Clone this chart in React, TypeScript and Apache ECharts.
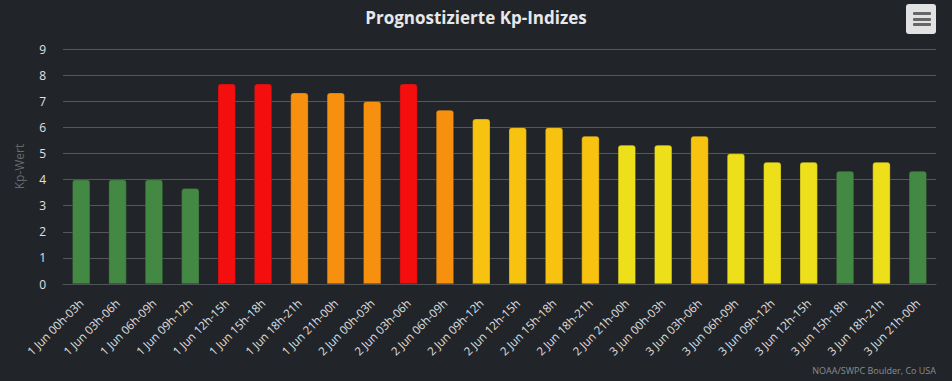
import React, { useEffect, useRef } from "react";
import * as echarts from "echarts";

const categories = [
  "1 Jun 00h-03h", "1 Jun 03h-06h", "1 Jun 06h-09h", "1 Jun 09h-12h",
  "1 Jun 12h-15h", "1 Jun 15h-18h", "1 Jun 18h-21h", "1 Jun 21h-00h",
  "2 Jun 00h-03h", "2 Jun 03h-06h", "2 Jun 06h-09h", "2 Jun 09h-12h",
  "2 Jun 12h-15h", "2 Jun 15h-18h", "2 Jun 18h-21h", "2 Jun 21h-00h",
  "3 Jun 00h-03h", "3 Jun 03h-06h", "3 Jun 06h-09h", "3 Jun 09h-12h",
  "3 Jun 12h-15h", "3 Jun 15h-18h", "3 Jun 18h-21h", "3 Jun 21h-00h",
];

const kpValues = [
  4.0, 4.0, 4.0, 3.67,
  7.67, 7.67, 7.33, 7.33,
  7.0, 7.67, 6.67, 6.33,
  6.0, 6.0, 5.67, 5.33,
  5.33, 5.67, 5.0, 4.67,
  4.67, 4.33, 4.67, 4.33,
];

const barColors = [
  "#438843", "#438843", "#438843", "#438843",
  "#f50e0e", "#f50e0e", "#f6900e", "#f6900e",
  "#f6900e", "#f50e0e", "#f6900e", "#f8c211",
  "#f8c211", "#f8c211", "#f8c211", "#eedf1b",
  "#eedf1b", "#f8c211", "#eedf1b", "#eedf1b",
  "#eedf1b", "#438843", "#eedf1b", "#438843",
];

const yTicks = [0, 1, 2, 3, 4, 5, 6, 7, 8, 9];

export default function App() {
  const ref = useRef<HTMLDivElement>(null);
  useEffect(() => {
    if (!ref.current) return;
    const chart = echarts.init(ref.current, undefined, { renderer: "svg" });
    const font = "'Open Sans', 'DejaVu Sans', sans-serif";
    chart.setOption({
      animation: false,
      backgroundColor: "#212529",
      textStyle: { fontFamily: font },
      title: {
        text: "Prognostizierte Kp-Indizes",
        left: "center",
        top: 4,
        textStyle: { color: "#e8e8ea", fontSize: 17, fontWeight: "bold", fontFamily: font },
      },
      grid: { left: 63, right: 16, top: 49, bottom: 97, containLabel: false },
      xAxis: {
        type: "category",
        data: categories,
        axisTick: { show: false },
        axisLine: { show: true, lineStyle: { color: "#505357", width: 1 } },
        axisLabel: {
          interval: 0,
          rotate: 45,
          margin: 17,
          color: "#e0e0e3",
          fontSize: 11.5,
          fontFamily: font,
        },
      },
      yAxis: {
        type: "value",
        min: yTicks[0],
        max: yTicks[yTicks.length - 1],
        interval: 1,
        name: "Kp-Wert",
        nameLocation: "middle",
        nameGap: 38,
        nameTextStyle: { color: "#666a6f", fontSize: 12, fontFamily: font },
        axisLine: { show: false },
        axisTick: { show: false },
        axisLabel: { color: "#e0e0e3", fontSize: 12, margin: 17, fontFamily: font },
        splitLine: { lineStyle: { color: "#55575b", width: 1 } },
      },
      series: [
        {
          type: "bar",
          barWidth: 18,
          data: kpValues.map((v, i) => ({
            value: v,
            itemStyle: {
              color: barColors[i],
              borderRadius: [3, 3, 0, 0],
              borderColor: "rgba(40,40,40,0.5)",
              borderWidth: 0.6,
            },
          })),
        },
      ],
      graphic: [
        {
          type: "rect",
          left: 906,
          top: 4,
          shape: { width: 30, height: 30, r: 3 },
          style: { fill: "#e2e2e2" },
        },
        { type: "rect", left: 913, top: 12, shape: { width: 18, height: 3, r: 1 }, style: { fill: "#666666" } },
        { type: "rect", left: 913, top: 18, shape: { width: 18, height: 3, r: 1 }, style: { fill: "#666666" } },
        { type: "rect", left: 913, top: 23, shape: { width: 18, height: 3, r: 1 }, style: { fill: "#666666" } },
        {
          type: "text",
          right: 16,
          top: 366,
          style: { text: "NOAA/SWPC Boulder, Co USA", fill: "#8a8d91", fontSize: 9, fontFamily: font },
        },
      ],
    });
    return () => chart.dispose();
  }, []);
  return (
    <div
      ref={ref}
      style={{ position: "absolute", left: 0, top: 0, width: 952, height: 381 }}
    />
  );
}
